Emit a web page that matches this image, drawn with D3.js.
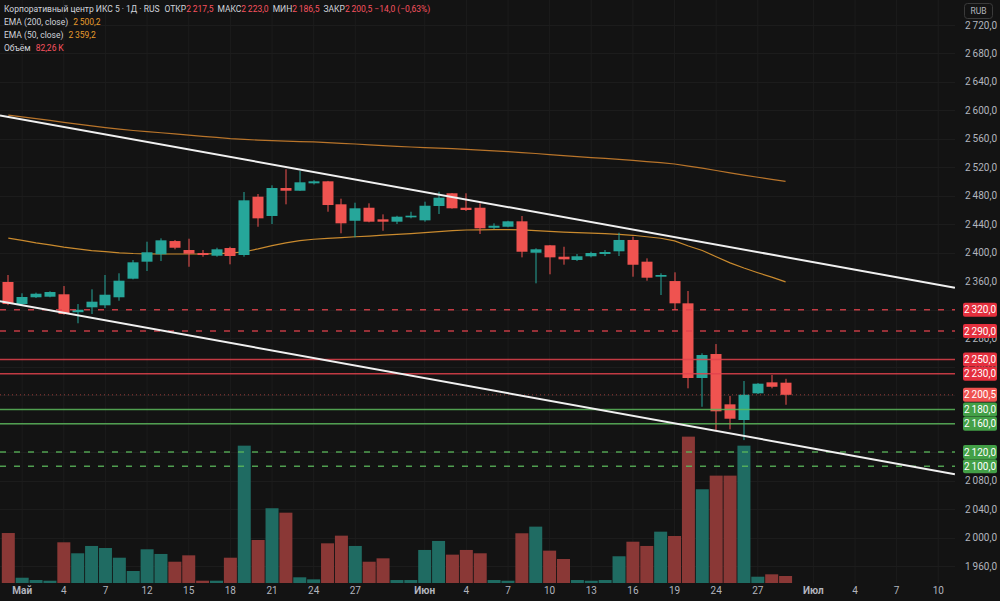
<!DOCTYPE html>
<html>
<head>
<meta charset="utf-8">
<script src="https://cdn.jsdelivr.net/npm/d3@7"></script>
<style>
  html, body { margin: 0; padding: 0; background: #131313; }
  svg { display: block; font-family: Roboto, "Liberation Sans", sans-serif; }
</style>
</head>
<body>
<svg id="chart" width="1000" height="601"></svg>
<script>
// daily bars (MM-DD), the tail past the last candle is empty future space
const dates = [
  "04-30","05-01","05-02","05-03","05-04","05-05","05-06","05-07","05-08","05-11",
  "05-12","05-13","05-14","05-15","05-16","05-17","05-18","05-19","05-20","05-21",
  "05-22","05-23","05-24","05-25","05-26","05-27","05-28","05-29","05-30","05-31",
  "06-01","06-02","06-03","06-04","06-05","06-06","06-07","06-08","06-09","06-10",
  "06-11","06-12","06-13","06-14","06-15","06-16","06-17","06-18","06-19","06-20",
  "06-23","06-24","06-25","06-26","06-27","06-28","06-29","06-30","07-01","07-02",
  "07-03","07-04","07-05","07-06","07-07","07-08","07-09","07-10","07-11"
];

const opens = [
  2359,2328,2337.5,2338.3,2341.7,2316.5,2323.4,2326.2,2337.5,2363.6,
  2387.5,2397.9,2416.5,2403.9,2399.7,2395.9,2406.7,2396.9,2478.8,2451.7,
  2491,2487.2,2497.6,2500.4,2468.1,2445,2463.3,2447,2443.7,2449.8,
  2445.6,2465.7,2483.6,2463.3,2463.3,2435.2,2436.6,2444.2,2400.1,2410.5,
  2394.5,2389.9,2395.1,2398.3,2402.1,2418,2387.5,2366.4,2360.3,2329,
  2224.1,2257.8,2187.1,2165.1,2202.6,2218,2217.5
];
const highs = [
  2368.8,2343.1,2344,2346,2353.3,2328,2348.7,2368.8,2371.2,2389.8,
  2415.6,2420.3,2418,2419.8,2403.9,2407.1,2408.5,2485.4,2482.6,2494.8,
  2517.3,2514.9,2502,2501,2476,2470.4,2469.5,2454,2452,2457.7,
  2471.8,2485.8,2484,2483.6,2469.5,2441.4,2445,2451.7,2406.3,2411,
  2408.5,2398.3,2401.5,2403.9,2428.2,2422.6,2392.2,2371.2,2372.6,2346.3,
  2258.8,2271.8,2198.8,2219.9,2217,2228.3,2223
];
const lows = [
  2326.5,2326.6,2336.5,2337.5,2313,2301,2314,2322.4,2332.7,2362.7,
  2374.4,2388.4,2404.9,2380.4,2394.5,2394.5,2383.8,2394.5,2436.6,2440.4,
  2468.1,2487,2496,2457.7,2427.4,2421.7,2442.8,2431,2440.4,2448.4,
  2443.7,2454.5,2462,2458.7,2426.4,2433.4,2435.8,2393.6,2357.1,2369.8,
  2383.3,2388.4,2393.6,2395.5,2395.5,2366.4,2360.8,2340.7,2319.6,2209.6,
  2183.7,2151,2152,2136.9,2201.6,2209.6,2186.5
];
const closes = [
  2328,2337.9,2342.5,2344.9,2314,2320,2331.3,2341.1,2360.8,2386.6,
  2400.7,2417.5,2407.1,2398.7,2396.9,2404.9,2395.5,2473.7,2448.4,2491,
  2487.2,2499,2500.4,2467.1,2441.4,2462.5,2443.7,2443.7,2450.7,2452.1,
  2466.1,2477.4,2462.5,2460.1,2434.4,2438,2444.2,2401.5,2404.9,2393.6,
  2390.8,2395.1,2399.7,2401.1,2418,2383.2,2365,2368.8,2329,2224.1,
  2256.4,2177.3,2166.9,2200.6,2216.1,2211.8,2200.5
];
// volume, thousands of shares
const volumes = [
  587,62,35,27,478,349,435,411,297,141,
  396,341,250,325,27,27,297,1613,505,878,
  826,67,43,466,556,435,250,290,35,35,
  388,494,333,388,349,35,27,584,662,380,
  282,35,27,35,314,485,435,603,552,1719,
  1101,1261,1261,1613,74,102,82.26
];

const ema50 = [
  2420.5,2417.5,2414,2411,2408,2405.5,2403,2401.5,2400,2399,
  2398.5,2398.3,2398.3,2398.3,2398.3,2398.8,2399.5,2401.5,2405.5,2410,
  2414,2417,2419,2420.3,2421.3,2422.5,2423.5,2424.8,2425.8,2427,
  2428.3,2429.7,2431,2432,2432.3,2432.5,2432.6,2432.3,2431,2430,
  2429,2428.3,2427.6,2426.8,2426,2424.6,2422.5,2420.4,2416.8,2409.6,
  2403.2,2394.5,2385.8,2378.6,2372,2365.8,2359.2
];
const ema200 = [
  2593.4,2590.9,2588.4,2586,2583.3,2580.7,2578.2,2575.8,2573.7,2571.8,
  2570.1,2568.6,2567,2565.3,2563.6,2562,2560.3,2559.4,2558.3,2557.6,
  2556.9,2556.3,2555.7,2554.8,2553.7,2552.8,2551.7,2550.6,2549.6,2548.6,
  2547.8,2547.1,2546.3,2545.4,2544.3,2543.2,2542.2,2540.8,2539.5,2538,
  2536.6,2535.2,2533.8,2532.5,2531.3,2529.8,2528.2,2526.6,2524.7,2521.7,
  2519,2515.6,2512.2,2509.1,2506.1,2503.2,2500.2
];

// horizontal levels drawn on the chart
const levelPrices = [2320, 2290, 2250, 2230, 2180, 2160, 2120, 2100];
const levelSide   = ["sell","sell","sell","sell","buy","buy","buy","buy"];
const levelDashed = [true, true, false, false, false, false, true, true];

// channel trend lines: [bar index, price] anchors
const trendUpper = [[-0.6, 2593], [68.2, 2351]];
const trendLower = [[-0.6, 2332], [68.2, 2089]];

const xTickDates = ["05-01","05-04","05-07","05-12","05-15","05-18","05-21","05-24","05-27",
  "06-01","06-04","06-07","06-10","06-13","06-16","06-19","06-24","06-27",
  "07-01","07-04","07-07","07-10"];
const monthNames = { "05": "Май", "06": "Июн", "07": "Июл" };
const priceTicks = d3.range(1960, 2721, 40);

// ---- layout
const width = 1000, height = 601;
const plotRight = 955, plotBottom = 583;
const upColor = "#26a69a", downColor = "#ef5350";
const upVol = "#1f6b62", downVol = "#8a3836";
const axisText = "#b2b5be";

const ruLocale = d3.formatLocale({ decimal: ",", thousands: "\u2009", grouping: [3], currency: ["", ""] });
const fmt = ruLocale.format(",.1f");

const x = d3.scaleLinear().domain([0, dates.length - 1]).range([8.3, 8.3 + 13.88 * (dates.length - 1)]);
const y = d3.scaleLinear().domain([1960, 2720]).range([566, 25]);
const yVol = d3.scaleLinear().domain([0, 1750]).range([plotBottom, 434]);

const svg = d3.select("#chart");
svg.append("rect").attr("width", width).attr("height", height).attr("fill", "#131313");

svg.append("defs").append("clipPath").attr("id", "plotClip")
  .append("rect").attr("x", 0).attr("y", 0).attr("width", plotRight).attr("height", plotBottom);

const plot = svg.append("g").attr("clip-path", "url(#plotClip)");

// grid
plot.append("g")
  .selectAll("line")
  .data(xTickDates)
  .enter()
  .append("line")
  .attr("x1", (d) => x(dates.indexOf(d)))
  .attr("x2", (d) => x(dates.indexOf(d)))
  .attr("y1", 0)
  .attr("y2", plotBottom)
  .attr("stroke", "#1c1c1c");

plot.append("g")
  .selectAll("line")
  .data(priceTicks)
  .enter()
  .append("line")
  .attr("x1", 0)
  .attr("x2", plotRight)
  .attr("y1", (d) => Math.round(y(d)) + 0.5)
  .attr("y2", (d) => Math.round(y(d)) + 0.5)
  .attr("stroke", "#1c1c1c");

// volume
const bars = d3.range(closes.length);
plot.append("g")
  .selectAll("rect")
  .data(bars)
  .enter()
  .append("rect")
  .attr("x", (i) => x(i) - 6.5)
  .attr("width", 13)
  .attr("y", (i) => yVol(volumes[i]))
  .attr("height", (i) => plotBottom - yVol(volumes[i]))
  .attr("fill", (i) => (closes[i] >= opens[i] ? upVol : downVol));

// EMAs
const emaLine = d3.line().x((d, i) => x(i)).y((d) => y(d));
plot.append("path").attr("d", emaLine(ema200)).attr("fill", "none")
  .attr("stroke", "#b8742a").attr("stroke-width", 1.2);
plot.append("path").attr("d", emaLine(ema50)).attr("fill", "none")
  .attr("stroke", "#c98a2e").attr("stroke-width", 1.2);

// candles
const candles = plot.append("g");
candles.selectAll("rect.wick")
  .data(bars)
  .enter()
  .append("rect")
  .attr("class", "wick")
  .attr("x", (i) => Math.round(x(i)) - 0.5)
  .attr("width", 1)
  .attr("y", (i) => y(highs[i]))
  .attr("height", (i) => y(lows[i]) - y(highs[i]))
  .attr("fill", (i) => (closes[i] >= opens[i] ? upColor : downColor));

candles.selectAll("rect.body")
  .data(bars)
  .enter()
  .append("rect")
  .attr("class", "body")
  .attr("x", (i) => Math.round(x(i)) - 5.5)
  .attr("width", 11)
  .attr("y", (i) => y(Math.max(opens[i], closes[i])))
  .attr("height", (i) => Math.max(1, Math.abs(y(opens[i]) - y(closes[i]))))
  .attr("fill", (i) => (closes[i] >= opens[i] ? upColor : downColor));

// levels
const levelColor = (s) => (s === "sell" ? "#e2424c" : "#5cb85c");
plot.append("g")
  .selectAll("line")
  .data(levelPrices)
  .enter()
  .append("line")
  .attr("x1", 0)
  .attr("x2", plotRight)
  .attr("y1", (d) => y(d))
  .attr("y2", (d) => y(d))
  .attr("stroke", (d, i) => levelColor(levelSide[i]))
  .attr("stroke-opacity", 0.85)
  .attr("stroke-width", 1.5)
  .attr("stroke-dasharray", (d, i) => (levelDashed[i] ? "6,8" : null));

// last price line
const lastClose = closes[closes.length - 1];
plot.append("line")
  .attr("x1", 0).attr("x2", plotRight)
  .attr("y1", y(lastClose)).attr("y2", y(lastClose))
  .attr("stroke", downColor).attr("stroke-opacity", 0.6)
  .attr("stroke-dasharray", "1,3");

// trend lines
[trendUpper, trendLower].forEach((t) => {
  plot.append("line")
    .attr("x1", x(t[0][0])).attr("y1", y(t[0][1]))
    .attr("x2", x(t[1][0])).attr("y2", y(t[1][1]))
    .attr("stroke", "#f0f0f0").attr("stroke-width", 2);
});

// level tags on the axis
const tags = levelPrices.map((p, i) => ({ p, color: levelSide[i] === "sell" ? "#e5303e" : "#43a047" }));
tags.push({ p: lastClose, color: "#ef5350" });

// price axis labels (the ones sitting right under a tag are hidden by it)
const covered = (p) => tags.some((t) => Math.abs(y(t.p) - y(p)) < 6);
svg.append("g")
  .selectAll("text")
  .data(priceTicks.filter((p) => !covered(p)))
  .enter()
  .append("text")
  .attr("x", 981)
  .attr("y", (d) => y(d) + 3.5)
  .attr("text-anchor", "middle")
  .attr("font-size", 10)
  .attr("fill", axisText)
  .text((d) => fmt(d));

const tagG = svg.append("g").selectAll("g").data(tags).enter().append("g");
tagG.append("rect")
  .attr("x", 963).attr("width", 34)
  .attr("y", (d) => y(d.p) - 7).attr("height", 14)
  .attr("rx", 2)
  .attr("fill", (d) => d.color);
tagG.append("text")
  .attr("x", 980)
  .attr("y", (d) => y(d.p) + 3.5)
  .attr("text-anchor", "middle")
  .attr("font-size", 10)
  .attr("fill", "#ffffff")
  .text((d) => fmt(d.p));

// currency box
svg.append("rect").attr("x", 964.5).attr("y", 3.5).attr("width", 28).attr("height", 15)
  .attr("rx", 3).attr("fill", "none").attr("stroke", "#3a3a3a");
svg.append("text").attr("x", 978.5).attr("y", 14).attr("text-anchor", "middle")
  .attr("font-size", 8.5).attr("fill", axisText).text("RUB");

// time axis labels
svg.append("g")
  .selectAll("text")
  .data(xTickDates)
  .enter()
  .append("text")
  .attr("x", (d) => x(dates.indexOf(d)))
  .attr("y", 594)
  .attr("text-anchor", "middle")
  .attr("font-size", 10)
  .attr("font-weight", (d) => (d.slice(3) === "01" ? "bold" : null))
  .attr("fill", axisText)
  .text((d) => (d.slice(3) === "01" ? monthNames[d.slice(0, 2)] : +d.slice(3)));

// legend
const white = "#d1d4dc", red = "#f7525f", orange = "#e69b2d";
const legend = svg.append("g").attr("font-size", 8.5);
const last = closes.length - 1;
const l1 = legend.append("text").attr("x", 4).attr("y", 12);
const parts = [
  ["Корпоративный центр ИКС 5 · 1Д · RUS", white, 0],
  ["ОТКР", white, 5], [fmt(opens[last]), red, 0],
  ["МАКС", white, 4], [fmt(highs[last]), red, 0],
  ["МИН", white, 4], [fmt(lows[last]), red, 0],
  ["ЗАКР", white, 4], [fmt(closes[last]) + " \u221214,0 (\u22120,63%)", red, 0]
];
parts.forEach((p) => l1.append("tspan").attr("dx", p[2]).attr("fill", p[1]).text(p[0]));

const l2 = legend.append("text").attr("x", 4).attr("y", 25);
l2.append("tspan").attr("fill", white).text("EMA (200, close)");
l2.append("tspan").attr("dx", 5).attr("fill", orange).text(fmt(ema200[last]));
const l3 = legend.append("text").attr("x", 4).attr("y", 38);
l3.append("tspan").attr("fill", white).text("EMA (50, close)");
l3.append("tspan").attr("dx", 5).attr("fill", orange).text(fmt(ema50[last]));
const l4 = legend.append("text").attr("x", 4).attr("y", 51);
l4.append("tspan").attr("fill", white).text("Объём");
l4.append("tspan").attr("dx", 5).attr("fill", red).text(ruLocale.format(",.2f")(volumes[last]) + "\u2009K");
</script>
</body>
</html>
